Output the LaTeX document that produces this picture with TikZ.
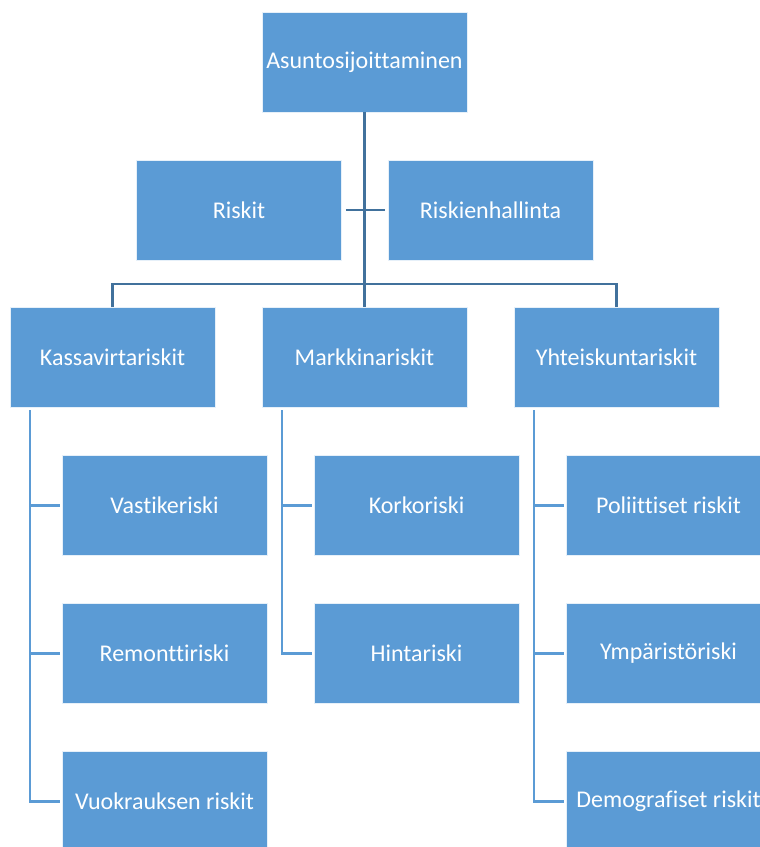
\documentclass[tikz,border=0pt]{standalone}
\usepackage{fontspec}
\setmainfont{Carlito}[Ligatures=NoCommon]
\definecolor{boxblue}{HTML}{5B9BD5}
\definecolor{lineblue}{HTML}{41719C}
\begin{document}
\begin{tikzpicture}[x=1pt,y=-1pt,
  box/.style={fill=boxblue,draw=white!85!boxblue,line width=0.6pt,minimum width=205pt,minimum height=100pt,
    inner sep=0pt,text=white,font=\fontsize{24}{28}\selectfont},
  topline/.style={draw=lineblue,line width=2.5pt},
  subline/.style={draw=boxblue,line width=2.5pt}]
\useasboundingbox (0,0) rectangle (760,847);
\clip (0,0) rectangle (760,847);
% nodes
\node[box] (top) at (364.5,62) {Asuntosijoittaminen};
\node[box] (risk) at (239,210) {Riskit};
\node[box] (hall) at (490.5,210) {Riskienhallinta};
\node[box] (kass) at (112.5,357.5) {Kassavirtariskit};
\node[box] (mark) at (364.5,357.5) {Markkinariskit};
\node[box] (yht) at (616.5,357.5) {Yhteiskuntariskit};
\node[box] (vast) at (164.5,505.5) {Vastikeriski};
\node[box] (remo) at (164.5,653.5) {Remonttiriski};
\node[box] (vuok) at (164.5,801.5) {Vuokrauksen riskit};
\node[box] (kork) at (416.5,505.5) {Korkoriski};
\node[box] (hint) at (416.5,653.5) {Hintariski};
\node[box] (poli) at (668.5,505.5) {Poliittiset riskit};
\node[box] (ympa) at (668.5,653.5) {Ympäristöriski};
\node[box] (demo) at (668.5,801.5) {Demografiset riskit};
% top connectors
\coordinate (bar) at (364.5,284);
\draw[topline] (top.south) -- (mark.north);
\draw[topline] (kass.north) |- (bar) -| (yht.north);
\draw[topline,shorten <=4pt,shorten >=3pt] (risk.east) -- (hall.west);
% child connectors
\coordinate (k0) at (30,410);
\coordinate (m0) at (282,410);
\coordinate (y0) at (534,410);
\draw[subline,shorten >=2pt] (k0) |- (vuok.west);
\draw[subline,shorten >=2pt] (k0 |- vast.west) -- (vast.west);
\draw[subline,shorten >=2pt] (k0 |- remo.west) -- (remo.west);
\draw[subline,shorten >=2pt] (m0) |- (hint.west);
\draw[subline,shorten >=2pt] (m0 |- kork.west) -- (kork.west);
\draw[subline,shorten >=2pt] (y0) |- (demo.west);
\draw[subline,shorten >=2pt] (y0 |- poli.west) -- (poli.west);
\draw[subline,shorten >=2pt] (y0 |- ympa.west) -- (ympa.west);
\end{tikzpicture}
\end{document}
